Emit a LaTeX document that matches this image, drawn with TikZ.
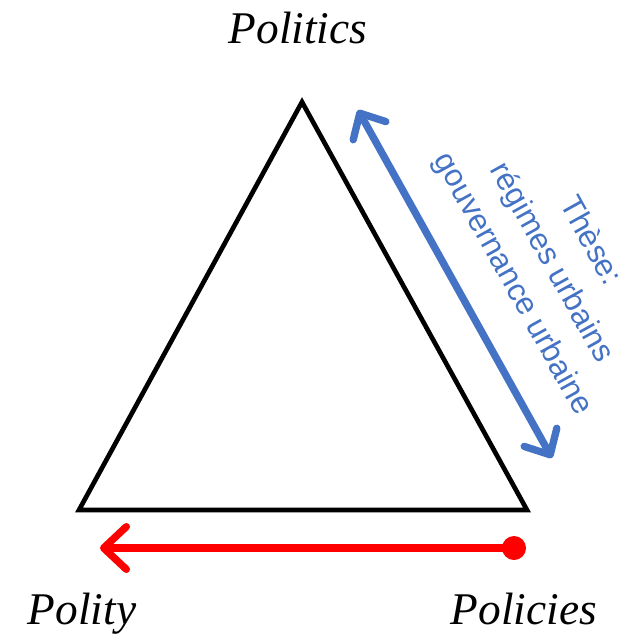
\documentclass[tikz,border=0pt]{standalone}
\usepackage{fontspec}
\setmainfont{Liberation Serif}
\setsansfont{Liberation Sans}
\usetikzlibrary{arrows.meta,positioning}
\definecolor{theseblue}{HTML}{4472C4}

\begin{document}
\begin{tikzpicture}[x=0.75pt, y=-0.75pt,
    corner/.style={font=\itshape\fontsize{34}{40}\selectfont, inner sep=0, anchor=base},
    triangle/.style={draw, line width=3.5pt},
    redarrow/.style={draw=red, line width=5.5pt, -{Straight Barb[round, length=17pt, width=32pt]}},
    bluearrow/.style={draw=theseblue, line width=5.5pt,
      {Straight Barb[round, length=15pt, width=28pt]}-{Straight Barb[round, length=15pt, width=28pt]}},
    thesetext/.style={font=\sffamily\fontsize{23.5}{33}\selectfont, text=theseblue, align=center, rotate=-61, inner sep=0}]
  \useasboundingbox (0,0) rectangle (639,636);
  % sommets
  \coordinate (top) at (302,102);
  \coordinate (left) at (79,510);
  \coordinate (right) at (527,510);
  \draw[triangle] (top) -- (left) -- (right) -- cycle;
  \node[corner] (politics) at (298,43) {Politics};
  \node[corner] (polity) at (82,624) {Polity};
  \node[corner] (policies) at (524,624) {Policies};
  % fleches
  \node[circle, fill=red, inner sep=0, minimum size=18pt] (dot) at (514,548) {};
  \coordinate (tip) at (100,548);
  \draw[redarrow] (dot.center) -- (tip);
  \coordinate (b1) at (358,110);
  \coordinate (b2) at (552,458);
  \draw[bluearrow] (b1) -- (b2);
  \node[thesetext] (these) at (551,263) {Thèse:\\régimes urbains\\gouvernance urbaine};
\end{tikzpicture}
\end{document}
